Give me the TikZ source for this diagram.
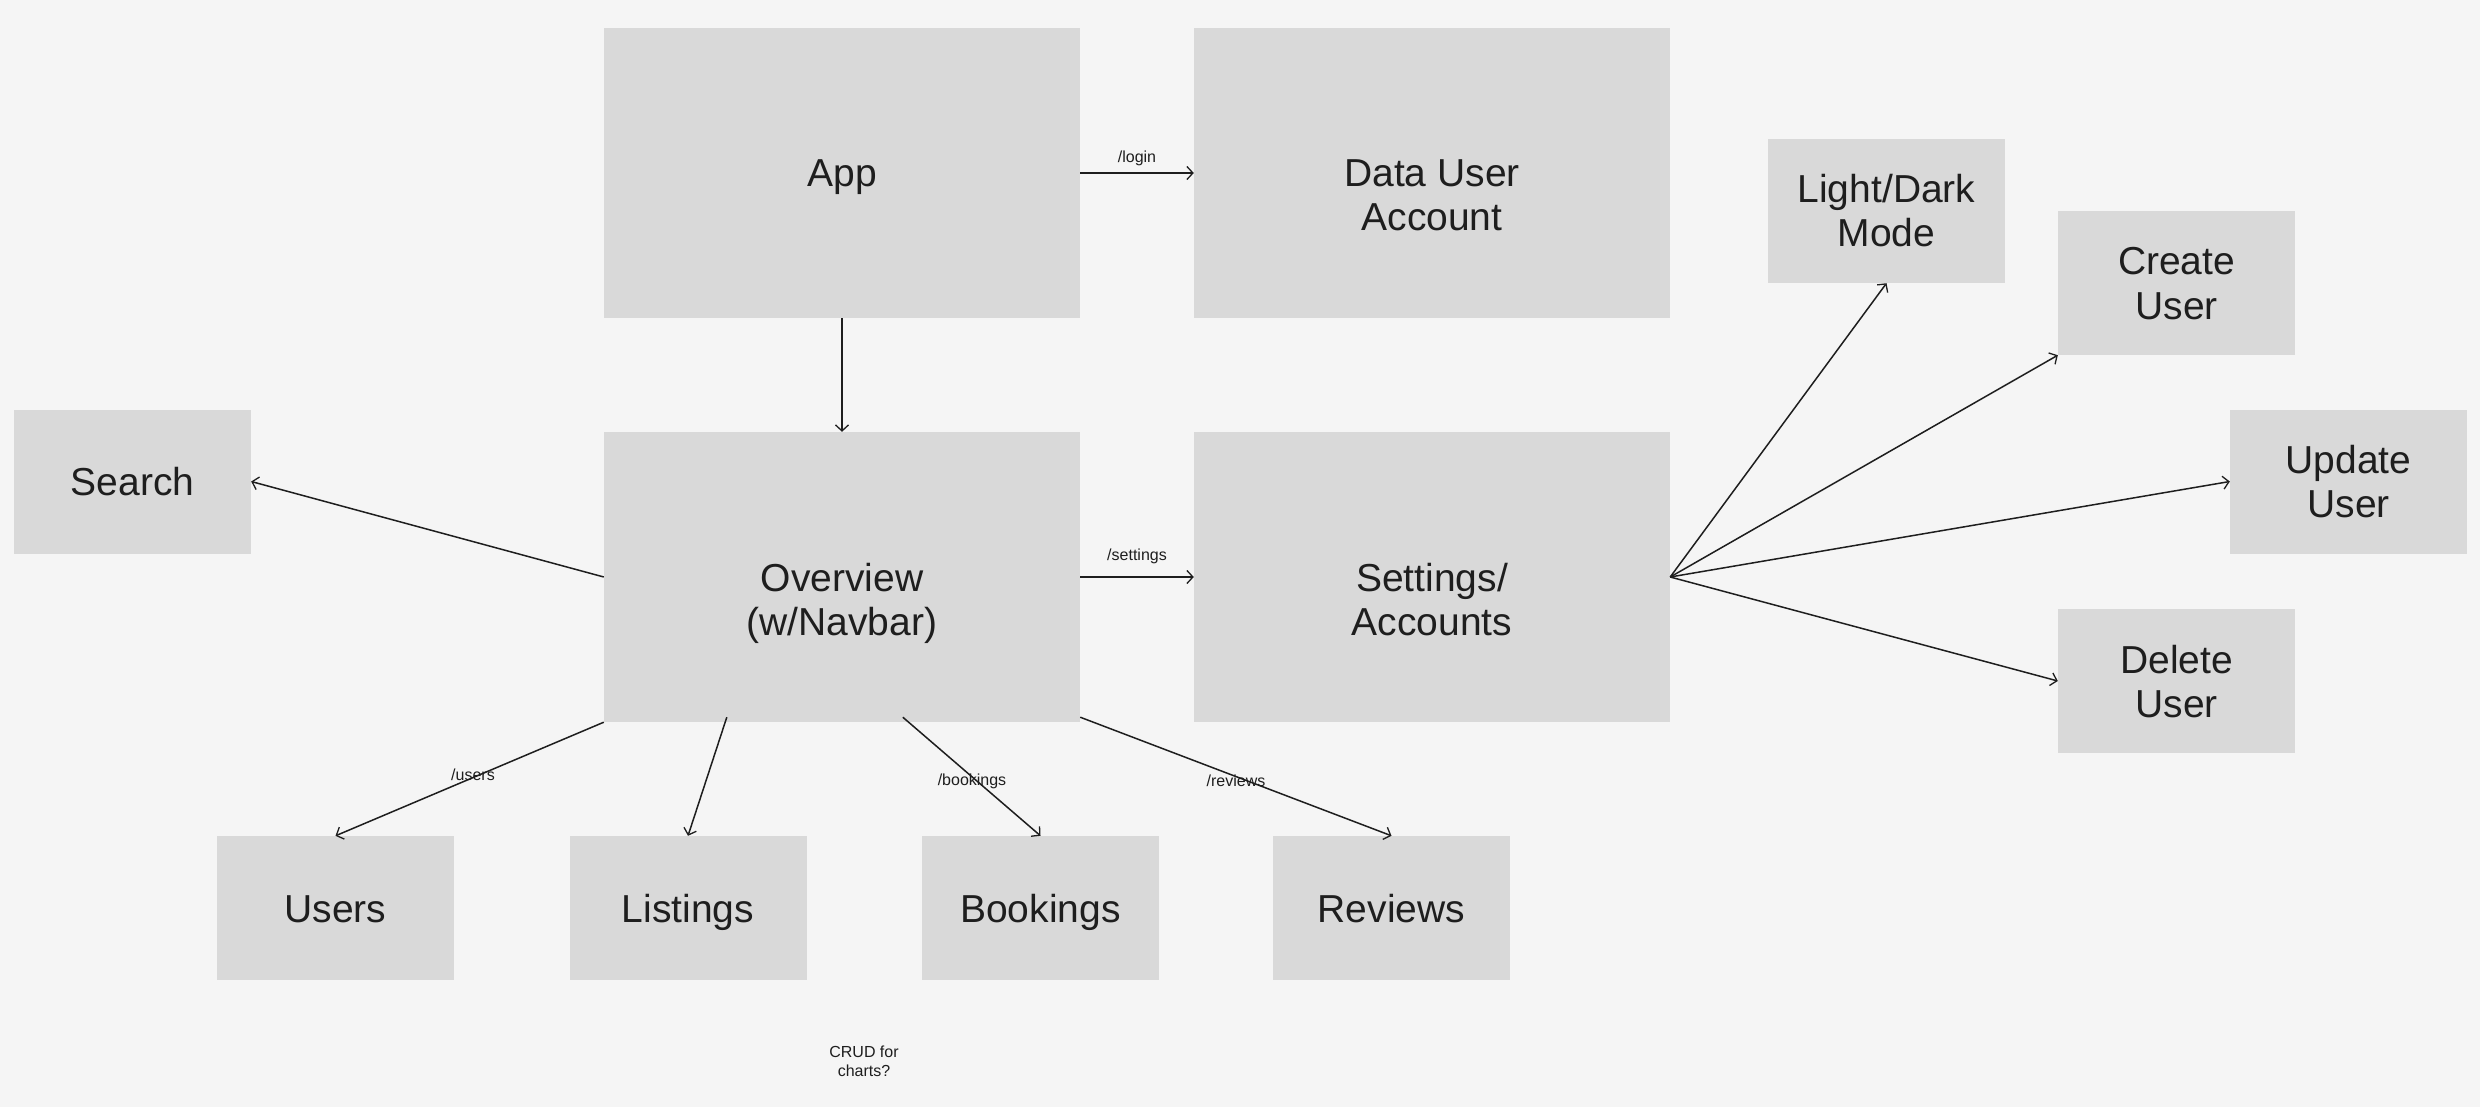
\documentclass[tikz,border=0pt]{standalone}
\usepackage{fontspec}
\setmainfont{Liberation Sans}
\usetikzlibrary{arrows.meta}
\definecolor{bg}{HTML}{F5F5F5}
\definecolor{boxc}{HTML}{D9D9D9}
\definecolor{ink}{HTML}{1E1E1E}
\newcommand{\twoline}[2]{\begin{tabular}[t]{@{}c@{}}#1\\#2\end{tabular}}
\tikzset{
  box/.style={fill=boxc, draw=none, inner sep=0pt, align=center, text=ink,
    font=\fontsize{39pt}{44pt}\selectfont},
  bigbox/.style={box, minimum width=476pt, minimum height=290pt},
  smallbox/.style={box, minimum width=237pt, minimum height=144pt},
  oneline/.style={text height=28pt, text depth=0pt},
  topline/.style={text height=28pt, text depth=0pt},
  midblock/.style={text height=28pt, text depth=44pt},
  conn/.style={draw=ink, line width=1.5pt, -{Straight Barb[length=6pt,width=13pt,line width=1.3pt]}},
  lbl/.style={text=ink, inner sep=0pt, align=center, font=\fontsize{16pt}{19pt}\selectfont}
}
\begin{document}
\begin{tikzpicture}[x=1pt,y=-1pt]
\fill[bg] (0,0) rectangle (2480,1107);
\useasboundingbox (0,0) rectangle (2480,1107);

\node[bigbox, oneline] (app) at (842,173) {App};
\node[bigbox, topline] (data) at (1432,173) {\twoline{Data User}{Account}};
\node[bigbox, topline] (ov) at (842,577) {\twoline{Overview}{(w/Navbar)}};
\node[bigbox, topline] (set) at (1432,577) {\twoline{Settings/}{Accounts}};

\node[smallbox, oneline] (search) at (132.5,481.5) {Search};
\node[smallbox, midblock] (light) at (1886.5,211) {\twoline{Light/Dark}{Mode}};
\node[smallbox, midblock] (create) at (2176.5,283) {\twoline{Create}{User}};
\node[smallbox, midblock] (update) at (2348.5,481.5) {\twoline{Update}{User}};
\node[smallbox, midblock] (delete) at (2176.5,681) {\twoline{Delete}{User}};

\node[smallbox, oneline] (users) at (335.5,908) {Users};
\node[smallbox, oneline] (listings) at (688,908) {Listings};
\node[smallbox, oneline] (bookings) at (1040.5,908) {Bookings};
\node[smallbox, oneline] (reviews) at (1391.5,908) {Reviews};

\node[lbl] (crud) at (864,1061) {CRUD for\\charts?};

\draw[conn] (app.east) -- node[lbl, above=6pt] (llogin) {/login} (data.west);
\draw[conn] (app.south) -- (ov.north);
\draw[conn] (ov.east) -- node[lbl, above=12pt] (lset) {/settings} (set.west);
\draw[conn] (ov.west) -- (search.east);

\draw[conn] (ov.south west) -- (users.north);
\draw[conn] ([xshift=123pt,yshift=5pt]ov.south west) -- (listings.north);
\draw[conn] ([xshift=299pt,yshift=5pt]ov.south west) -- (bookings.north);
\draw[conn] ([yshift=5pt]ov.south east) -- (reviews.north);
\node[lbl] (lusers) at (473,775) {/users};
\node[lbl] (lbook) at (972,781) {/bookings};
\node[lbl] (lrev) at (1236,781) {/reviews};

\draw[conn] (set.east) -- (light.south);
\draw[conn] (set.east) -- (create.south west);
\draw[conn] (set.east) -- (update.west);
\draw[conn] (set.east) -- (delete.west);
\end{tikzpicture}
\end{document}
